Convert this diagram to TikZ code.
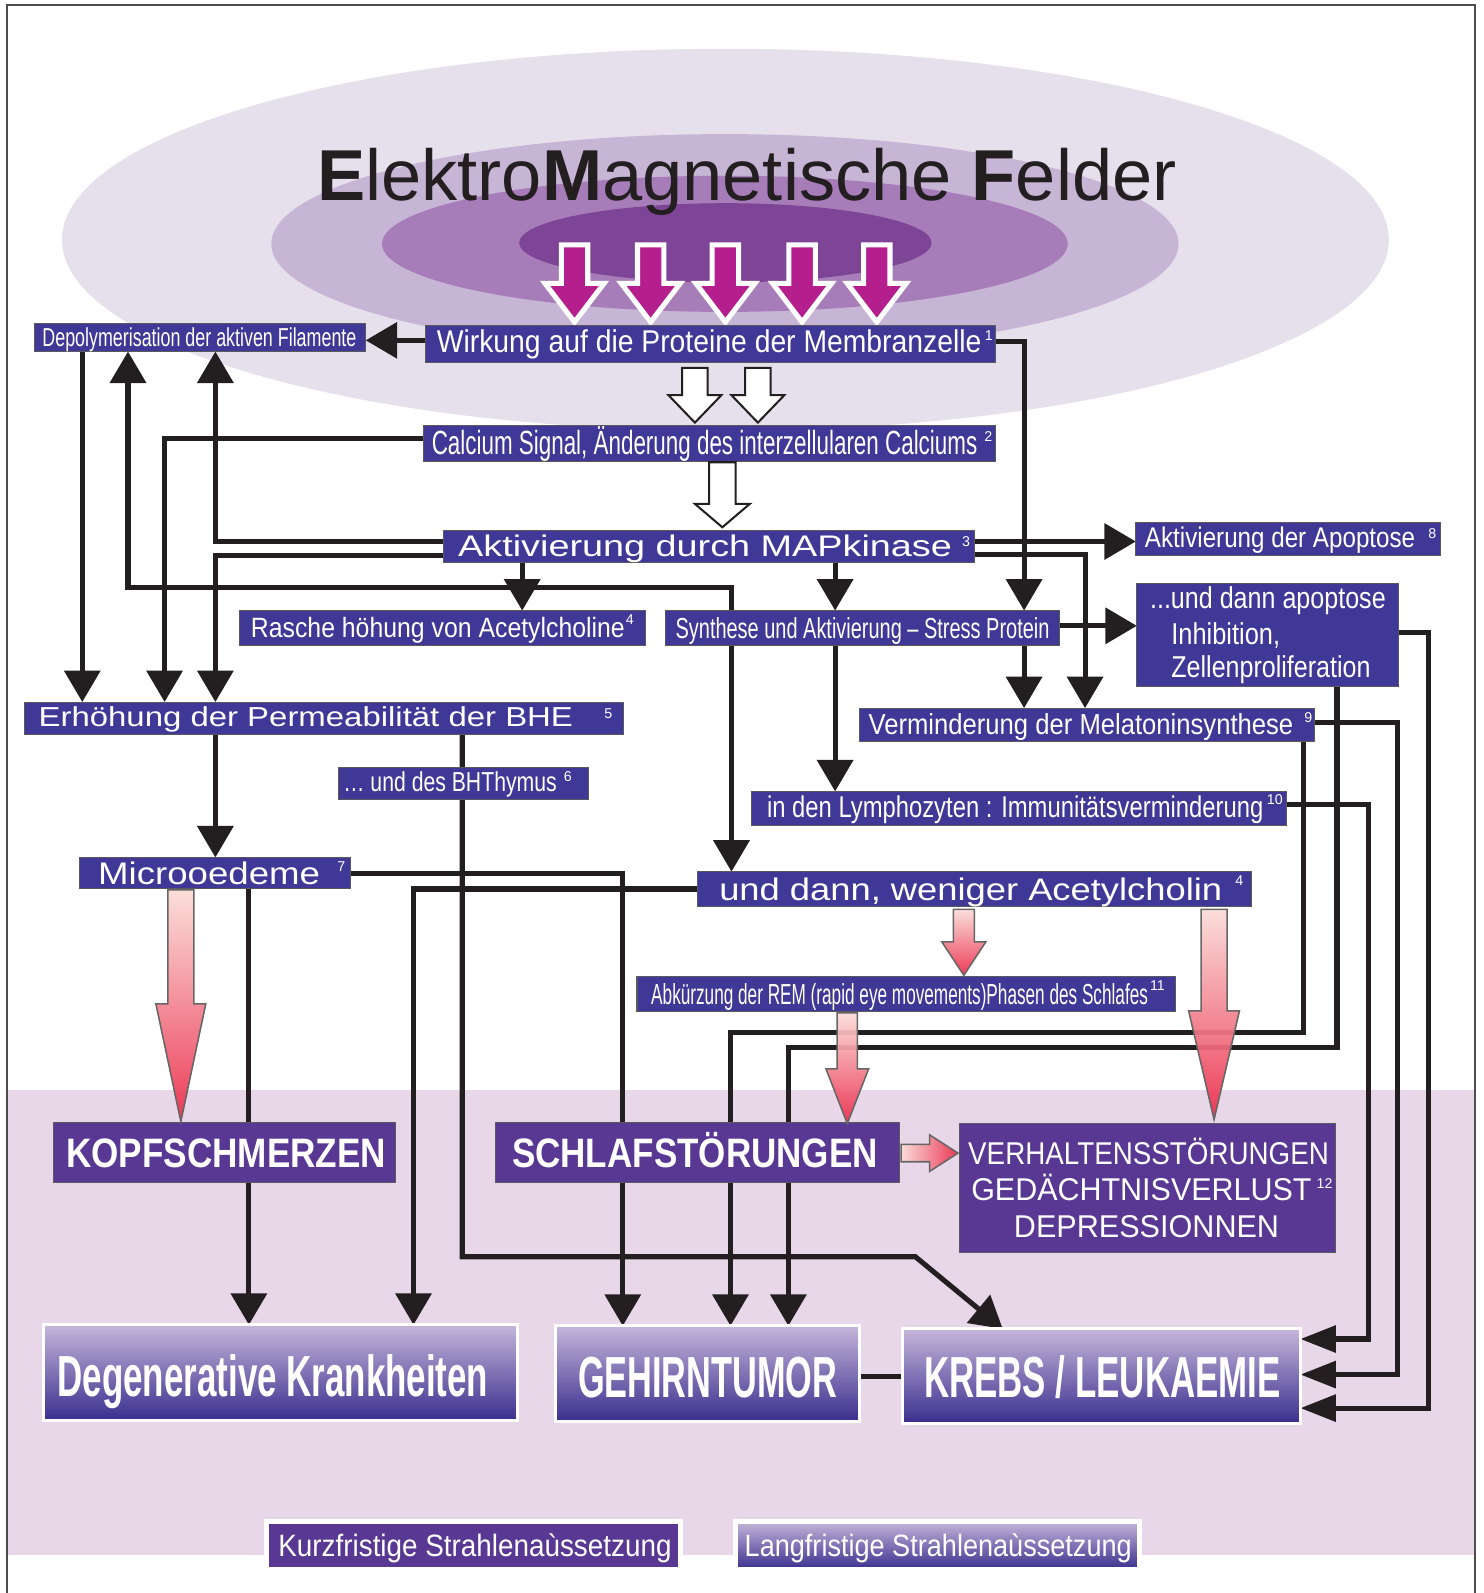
\documentclass[tikz,border=0pt]{standalone}
\usepackage{fontspec}
\setmainfont{Liberation Sans}
\usepackage{graphicx}
\usetikzlibrary{arrows.meta,fit}
\definecolor{linecol}{HTML}{231F20}
\definecolor{boxblue}{HTML}{3F3896}
\definecolor{boxpurp}{HTML}{583893}
\definecolor{ellA}{HTML}{E6E0EC}
\definecolor{ellB}{HTML}{C7B5D5}
\definecolor{ellC}{HTML}{A67DB8}
\definecolor{ellD}{HTML}{7E4496}
\definecolor{bandcol}{HTML}{E7D7E9}
\definecolor{magcol}{HTML}{B51F8D}
\definecolor{pinklt}{HTML}{FBDCD8}
\definecolor{redar}{HTML}{EB2D4B}
\definecolor{gtop}{HTML}{C5B6DA}
\definecolor{gmid}{HTML}{8377BA}
\definecolor{gbot}{HTML}{3A2E8E}
\definecolor{bordgray}{HTML}{5A5A5E}
\newcommand{\mytxt}[6]{\node[anchor=base west,inner sep=0pt,outer sep=0pt,text=white] (#1) at (#2,#3) {\resizebox{#4pt}{\height}{\fontsize{#5pt}{#5pt}\selectfont #6}};}
\newcommand{\mysup}[4]{\node[anchor=base west,inner sep=0pt,outer sep=0pt,text=white] (#1) at (#2,#3) {\fontsize{14pt}{14pt}\selectfont #4};}
\newcommand{\mybox}[6]{\node[#1,inner sep=0pt,outer sep=0pt,fit={(#3,#4) (#5,#6)}] (#2) {};}
\newcommand{\varrow}[7]{\path[#1] (#2-#5,#3) -- (#2+#5,#3) -- (#2+#5,#4) -- (#2+#6,#4) -- (#2,#7) -- (#2-#6,#4) -- (#2-#5,#4) -- cycle;}
\tikzset{
  con/.style={line width=5pt,draw=linecol},
  arr/.style={con,-{Triangle[length=31pt,width=35pt]}},
  arrk/.style={con,-{Triangle[length=35pt,width=26pt]}},
  sbox/.style={rectangle,fill=boxblue,draw=bordgray,line width=1pt},
  bbox/.style={rectangle,fill=boxpurp,draw=bordgray,line width=1pt},
  gbox/.style={rectangle,draw=white,line width=3pt,top color=gtop,middle color=gmid,bottom color=gbot},
  magar/.style={fill=magcol,draw=white,line width=5pt},
  whar/.style={fill=white,draw=linecol,line width=2pt},
  redv/.style={top color=pinklt,bottom color=redar,draw=gray!80!black,line width=1.5pt,fill opacity=0.93},
}
\begin{document}
\begin{tikzpicture}[x=1pt,y=-1pt]
\useasboundingbox (0,0) rectangle (1460,1568);
% background
\fill[white] (0,0) rectangle (1460,1568);
\fill[bandcol] (8,1073) rectangle (1452,1531);
\draw[line width=1.5pt,draw=linecol!80] (7,1568) -- (7,5) -- (1452,5) -- (1452,1568);
% ellipses
\fill[ellA] (714,236) ellipse [x radius=653pt,y radius=188pt];
\fill[ellB] (713.5,240) ellipse [x radius=446.5pt,y radius=108pt];
\fill[ellC] (713.5,240) ellipse [x radius=337.5pt,y radius=67pt];
\fill[ellD] (714,239) ellipse [x radius=203pt,y radius=39pt];
% title
\node[anchor=base west,inner sep=0pt,text=linecol] (title) at (312,197) {\resizebox{846pt}{\height}{\fontsize{71pt}{71pt}\selectfont\textbf{E}lektro\textbf{M}agnetische \textbf{F}elder}};
% magenta arrows
\varrow{magar}{565.5}{241}{279}{13}{29}{317}
\varrow{magar}{640.5}{241}{279}{13}{29}{317}
\varrow{magar}{714}{241}{279}{13}{29}{317}
\varrow{magar}{789.5}{241}{279}{13}{29}{317}
\varrow{magar}{863}{241}{279}{13}{29}{317}
% helper coordinates
\foreach \v in {81,126,162,212,245,407,455,514,613,719,720,776,822,901,987,1008,1068,1283,1316,1347,1376,1406}{\coordinate (v\v) at (\v,0);}
\foreach \h in {335,336,432,533,546,547,578,616,623,711,792,860,875,1016,1031,1237,1318,1353,1355,1386}{\coordinate (h\h) at (0,\h);}
% boxes (as named nodes)
\mybox{}{Depoly}{34}{318}{360}{346}
\mybox{}{Wirkung}{419}{320}{980}{357}
\mybox{}{Calcium}{417}{419}{980}{454}
\mybox{}{MAP}{437}{522}{959}{554}
\mybox{}{Apopt}{1118}{514}{1418}{547}
\mybox{}{UndApo}{1119}{574}{1377}{676}
\mybox{}{Rasche}{236}{601}{635}{635}
\mybox{}{Synth}{655}{601}{1043}{635}
\mybox{}{Erh}{24}{691}{614}{723}
\mybox{}{BHT}{333}{755}{579}{787}
\mybox{}{Verm}{846}{697}{1294}{730}
\mybox{}{Lymph}{740}{779}{1266}{813}
\mybox{}{Micro}{78}{844}{345}{875}
\mybox{}{UndWen}{687}{858}{1232}{892}
\mybox{}{Abk}{627}{961}{1157}{996}
\mybox{}{KOPF}{53}{1105}{389}{1164}
\mybox{}{SCHLAF}{488}{1105}{885}{1164}
\mybox{}{VERH}{944}{1106}{1315}{1233}
\mybox{}{Degen}{43}{1304}{509}{1398}
\mybox{}{GEH}{547}{1305}{846}{1399}
\mybox{}{KREBS}{888}{1308}{1280}{1401}
\mybox{}{Kurz}{262}{1497.5}{670}{1545}
\mybox{}{Lang}{724}{1497.5}{1122}{1545}
% connectors
\draw[arr] (Wirkung.west |- h335) -- (Depoly.east |- h335);
\draw[arr] (Wirkung.east |- h336) -| (Synth.north -| v1008);
\draw[arr] (Synth.south -| v1008) -- (Verm.north -| v1008);
\draw[arr] (Calcium.west |- h432) -| (Erh.north -| v162);
\draw[arr] (MAP.west |- h533) -| (Depoly.south -| v212);
\draw[arr] (MAP.west |- h547) -| (Erh.north -| v212);
\draw[arr] (MAP.east |- h533) -- (Apopt.west |- h533);
\draw[arr] (MAP.east |- h546) -| (Verm.north -| v1068);
\draw[arr] (MAP.south -| v514) -- (Rasche.north -| v514);
\draw[arr] (MAP.south -| v822) -- (Synth.north -| v822);
\draw[arr] (Synth.north -| v720) -- (v720 |- h578) -- (v126 |- h578) -- (Depoly.south -| v126);
\draw[arr] (Depoly.south -| v81) -- (Erh.north -| v81);
\draw[arr] (Synth.south -| v720) -- (UndWen.north -| v720);
\draw[arr] (Synth.south -| v822) -- (Lymph.north -| v822);
\draw[arr] (Synth.east |- h616) -- (UndApo.west |- h616);
\draw[arr] (Erh.south -| v212) -- (Micro.north -| v212);
\draw[arr] (Erh.south -| v455) -- (v455 |- h1237) -- (v901 |- h1237) -- (KREBS.north -| v987);
\draw[arr] (Micro.east |- h860) -| (GEH.north -| v613);
\draw[arr] (Micro.south -| v245) -- (Degen.north -| v245);
\draw[arr] (UndWen.west |- h875) -| (Degen.north -| v407);
\draw[arr] (Verm.south -| v1283) -- (v1283 |- h1016) -- (v719 |- h1016) -- (GEH.north -| v719);
\draw[arr] (UndApo.south -| v1316) -- (v1316 |- h1031) -- (v776 |- h1031) -- (GEH.north -| v776);
\draw[arrk] (UndApo.east |- h623) -- (v1406 |- h623) -- (v1406 |- h1386) -- (KREBS.east |- h1386);
\draw[arrk] (Verm.east |- h711) -- (v1376 |- h711) -- (v1376 |- h1353) -- (KREBS.east |- h1353);
\draw[arrk] (Lymph.east |- h792) -- (v1347 |- h792) -- (v1347 |- h1318) -- (KREBS.east |- h1318);
\draw[con] (GEH.east |- h1355) -- (KREBS.west |- h1355);
% visible boxes
\draw[sbox] (Depoly.north west) rectangle (Depoly.south east);
\draw[sbox] (Wirkung.north west) rectangle (Wirkung.south east);
\draw[sbox] (Calcium.north west) rectangle (Calcium.south east);
\draw[sbox] (MAP.north west) rectangle (MAP.south east);
\draw[sbox] (Apopt.north west) rectangle (Apopt.south east);
\draw[sbox] (UndApo.north west) rectangle (UndApo.south east);
\draw[sbox] (Rasche.north west) rectangle (Rasche.south east);
\draw[sbox] (Synth.north west) rectangle (Synth.south east);
\draw[sbox] (Erh.north west) rectangle (Erh.south east);
\draw[sbox] (BHT.north west) rectangle (BHT.south east);
\draw[sbox] (Verm.north west) rectangle (Verm.south east);
\draw[sbox] (Lymph.north west) rectangle (Lymph.south east);
\draw[sbox] (Micro.north west) rectangle (Micro.south east);
\draw[sbox] (UndWen.north west) rectangle (UndWen.south east);
\draw[sbox] (Abk.north west) rectangle (Abk.south east);
\draw[bbox] (KOPF.north west) rectangle (KOPF.south east);
\draw[bbox] (SCHLAF.north west) rectangle (SCHLAF.south east);
\draw[bbox] (VERH.north west) rectangle (VERH.south east);
\draw[gbox] (Degen.north west) rectangle (Degen.south east);
\draw[gbox] (GEH.north west) rectangle (GEH.south east);
\draw[gbox] (KREBS.north west) rectangle (KREBS.south east);
\draw[bbox,draw=white,line width=5pt] (Kurz.north west) rectangle (Kurz.south east);
\draw[gbox,line width=5pt] (Lang.north west) rectangle (Lang.south east);
% texts
\mytxt{tDep}{41.8}{341}{309}{25.5}{Depolymerisation der aktiven Filamente}
\mytxt{tWir}{430}{347}{536}{31}{Wirkung auf die Proteine der Membranzelle}
\mysup{sWir}{969.5}{335}{1}
\mytxt{tCal}{425}{447}{537}{33}{Calcium Signal, Änderung des interzellularen Calciums}
\mysup{sCal}{969}{435}{2}
\mytxt{tMap}{451}{548}{486}{29.3}{Aktivierung durch MAPkinase}
\mysup{sMap}{947}{538}{3}
\mytxt{tApo}{1127}{539}{266}{28}{Aktivierung der Apoptose}
\mysup{sApo}{1406}{530}{8}
\mytxt{tUaA}{1132}{599}{232}{29.7}{...und dann apoptose}
\mytxt{tUaB}{1153}{634}{107}{29.7}{Inhibition,}
\mytxt{tUaC}{1153}{667}{196}{29.7}{Zellenproliferation}
\mytxt{tRas}{247}{627.5}{368}{27.5}{Rasche höhung von Acetylcholine}
\mysup{sRas}{616}{615}{4}
\mytxt{tSyn}{665}{628}{368}{28.5}{Synthese und Aktivierung – Stress Protein}
\mytxt{tErh}{38}{715.5}{526}{27}{Erhöhung der Permeabilität der BHE}
\mysup{sErh}{595}{707}{5}
\mytxt{tBht}{338}{779.5}{210}{27}{… und des BHThymus}
\mysup{sBht}{555}{769}{6}
\mytxt{tVer}{855}{722.5}{418}{28.5}{Verminderung der Melatoninsynthese}
\mysup{sVer}{1284}{711}{9}
\mytxt{tLym}{755}{805}{488.5}{29.5}{in den Lymphozyten : Immunitätsverminderung}
\mysup{sLym}{1247}{792}{10}
\mytxt{tMic}{96.6}{870.5}{218.4}{30.7}{Microoedeme}
\mysup{sMic}{332}{858}{7}
\mytxt{tUw}{708}{886}{495}{30.7}{und dann, weniger Acetylcholin}
\mysup{sUw}{1216}{872}{4}
\mytxt{tAbk}{641}{988.5}{489}{28.5}{Abkürzung der REM (rapid eye movements)Phasen des Schlafes}
\mysup{sAbk}{1132}{975}{11}
\mytxt{tKop}{65}{1149.5}{315}{40.5}{\bfseries KOPFSCHMERZEN}
\mytxt{tSch}{504}{1149.5}{360}{40.5}{\bfseries SCHLAFSTÖRUNGEN}
\mytxt{tVhA}{953}{1146}{355}{31}{VERHALTENSSTÖRUNGEN}
\mytxt{tVhB}{956}{1182}{335}{31}{GEDÄCHTNISVERLUST}
\mysup{sVh}{1296}{1170}{12}
\mytxt{tVhC}{998}{1218}{261}{31}{DEPRESSIONNEN}
\mytxt{tDeg}{56.7}{1374.5}{424}{57}{\bfseries Degenerative Krankheiten}
\mytxt{tGeh}{569}{1376}{255}{57}{\bfseries GEHIRNTUMOR}
\mytxt{tKre}{909.6}{1376}{351}{57}{\bfseries KREBS / LEUKAEMIE}
\mytxt{tKur}{274}{1532}{387}{30.4}{Kurzfristige Strahlenaùssetzung}
\mytxt{tLan}{733}{1532}{381}{30.4}{Langfristige Strahlenaùssetzung}
% white hollow arrows
\varrow{whar}{684}{362}{389}{12.5}{26}{416}
\varrow{whar}{746}{362}{389}{12.5}{26}{416}
\varrow{whar}{711}{455}{496}{13}{27}{519}
% red gradient arrows
\varrow{redv}{178}{876}{988}{12.8}{24.6}{1104}
\varrow{redv}{948.7}{895}{927}{10.3}{21.7}{960}
\varrow{redv}{1195}{895}{995}{12.8}{25}{1102}
\varrow{redv}{834}{997}{1052}{10}{21}{1106}
\path[left color=pinklt,right color=redar,draw=gray!80!black,line width=1.5pt,fill opacity=0.93] (887,1126.5) -- (915,1126.5) -- (915,1117) -- (943,1135) -- (915,1153) -- (915,1143.5) -- (887,1143.5) -- cycle;
\end{tikzpicture}
\end{document}
